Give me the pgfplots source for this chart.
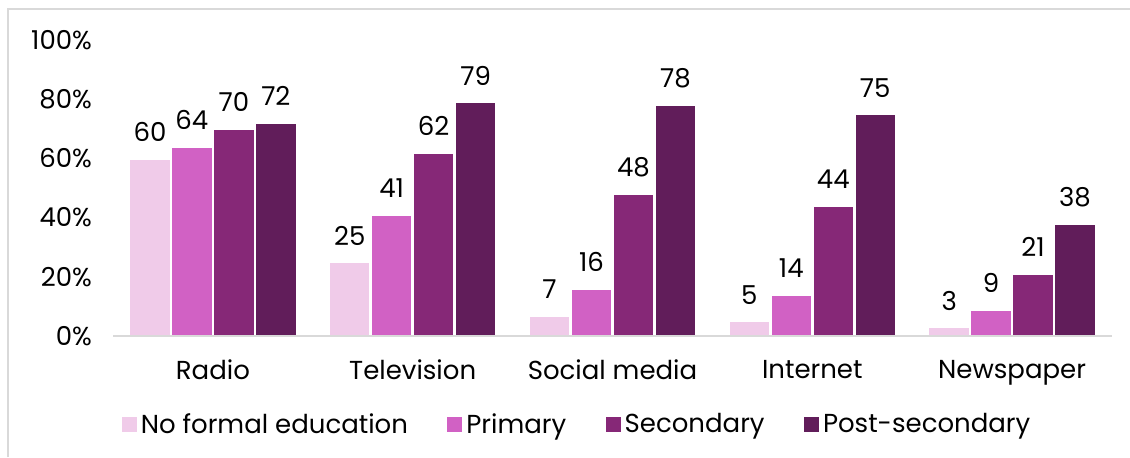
\documentclass[border=0pt]{standalone}
\usepackage{pgfplots}
\pgfplotsset{compat=1.18}
\usepackage{fontspec}
\setmainfont{Poppins}

\definecolor{nofe}{HTML}{F0CBE9}
\definecolor{prim}{HTML}{D161C4}
\definecolor{seco}{HTML}{862877}
\definecolor{post}{HTML}{611D5A}
\definecolor{frame}{HTML}{D9D9D9}

\newcommand{\chartfont}{\fontsize{13}{15}\selectfont}

\begin{document}
\begin{tikzpicture}
\useasboundingbox (0,0) rectangle (565pt,228.5pt);
\draw[frame, line width=1pt] (4pt,0) -- (4pt,224pt) -- (565pt,224pt);
\begin{axis}[
    at={(56.5pt,60.5pt)}, anchor=south west,
    scale only axis, width=499.5pt, height=148pt,
    xmin=-0.5, xmax=4.5,
    ymin=0, ymax=100,
    clip=false,
    axis on top,
    ybar,
    axis x line*=bottom,
    axis y line*=left,
    x axis line style={draw=frame, line width=1pt, -},
    y axis line style={draw=none},
    major tick length=0pt,
    xtick={0,1,2,3,4},
    xticklabels={Radio,Television,Social media,Internet,Newspaper},
    ytick={0,20,40,60,80,100},
    yticklabel={\pgfmathprintnumber{\tick}\%},
    /pgf/number format/assume math mode=true,
    tick label style={font=\chartfont, text=black},
    yticklabel style={xshift=-7pt},
    xticklabel style={yshift=-8.5pt},
    bar width=0.21,
    nodes near coords,
    every node near coord/.append style={font=\chartfont, text=black, yshift=4.5pt},
    legend columns=-1,
    legend style={at={(0.4655,-0.30)}, anchor=center, draw=none, fill=none,
        font=\chartfont,
        /tikz/every even column/.append style={column sep=17.7pt}},
    legend image code/.code={\fill[#1,draw=none] (0pt,-3.75pt) rectangle (7.5pt,3.75pt);},
]
\addplot[bar shift=-0.315, fill=nofe, draw=white, line width=1.25pt]
    coordinates {(0,60)(1,25)(2,7)(3,5)(4,3)};
\addplot[bar shift=-0.105, fill=prim, draw=white, line width=1.25pt]
    coordinates {(0,64)(1,41)(2,16)(3,14)(4,9)};
\addplot[bar shift=0.105, fill=seco, draw=white, line width=1.25pt]
    coordinates {(0,70)(1,62)(2,48)(3,44)(4,21)};
\addplot[bar shift=0.315, fill=post, draw=white, line width=1.25pt]
    coordinates {(0,72)(1,79)(2,78)(3,75)(4,38)};
\legend{No formal education, Primary, Secondary, Post-secondary}
\end{axis}
\end{tikzpicture}
\end{document}
